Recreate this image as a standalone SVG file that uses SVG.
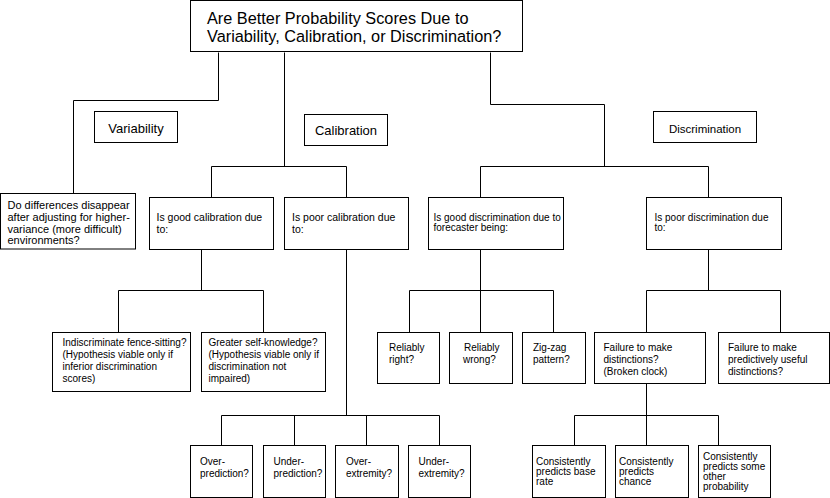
<svg xmlns="http://www.w3.org/2000/svg" width="830" height="498" viewBox="0 0 830 498">
<style>
rect{fill:#fff;stroke:#000;stroke-width:1}
.c path{fill:none;stroke:#000;stroke-width:1}
text{font-family:"Liberation Sans",Arial,sans-serif;fill:#000;font-size:10px}
.t{font-size:16.3px}
.l{font-size:13px;text-anchor:middle}
.s{font-size:11px}
.m{font-size:10.5px}
</style>
<rect width="830" height="498" style="stroke:none"/>
<g class="c" id="connectors">
<path d="M218.5 52.5V100.5H73.5V193.5"/>
<path d="M284.5 52.5V166.5M211.5 197.5V166.5H346.5V197.5"/>
<path d="M490.5 52.5V104.5H604.5V166.5M480.5 197.5V166.5H708.5V197.5"/>
<path d="M201.5 249.5V290.5M118.5 332.5V290.5H263.5V332.5"/>
<path d="M346.5 249.5V415.5M221.5 445.5V415.5H439.5V445.5M294.5 415.5V445.5M366.5 415.5V445.5"/>
<path d="M480.5 249.5V332.5M409.5 332.5V290.5H553.5V332.5"/>
<path d="M708.5 249.5V290.5M646.5 332.5V290.5H780.5V332.5"/>
<path d="M646.5 383.5V445.5M574.5 445.5V415.5H718.5V445.5"/>
</g>
<g id="root">
<rect x="190.5" y="0.5" width="332" height="51"/>
<text class="t" x="207" y="23.5">Are Better Probability Scores Due to</text>
<text class="t" x="207" y="42">Variability, Calibration, or Discrimination?</text>
</g>
<g id="lbl-variability">
<rect x="94.5" y="111.5" width="83" height="31"/>
<text class="l" x="136" y="132.5">Variability</text>
</g>
<g id="lbl-calibration">
<rect x="304.5" y="114.5" width="83" height="31"/>
<text class="l" x="346" y="135">Calibration</text>
</g>
<g id="lbl-discrimination">
<rect x="653.5" y="111.5" width="103" height="31"/>
<text class="l" x="705" y="132.5" style="font-size:11.5px">Discrimination</text>
</g>
<g id="n-variance">
<rect x="0.5" y="193.5" width="135" height="55.5"/>
<text class="s" x="7.5" y="208.5">Do differences disappear</text>
<text class="s" x="7.5" y="220.5">after adjusting for higher-</text>
<text class="s" x="7.5" y="232.5">variance (more difficult)</text>
<text class="s" x="7.5" y="244">environments?</text>
</g>
<g id="n-goodcal">
<rect x="149.5" y="197.5" width="124" height="52"/>
<text class="m" x="156.5" y="221">Is good calibration due</text>
<text class="m" x="156.5" y="233">to:</text>
</g>
<g id="n-poorcal">
<rect x="284.5" y="197.5" width="124" height="52"/>
<text class="m" x="292" y="221">Is poor calibration due</text>
<text class="m" x="292" y="233">to:</text>
</g>
<g id="n-gooddisc">
<rect x="428.5" y="197.5" width="135" height="52"/>
<text x="433.5" y="221">Is good discrimination due to</text>
<text x="433.5" y="231">forecaster being:</text>
</g>
<g id="n-poordisc">
<rect x="646.5" y="197.5" width="135" height="52"/>
<text x="654.5" y="221">Is poor discrimination due</text>
<text x="654.5" y="231">to:</text>
</g>
<g id="n-fence">
<rect x="52.5" y="332.5" width="138" height="59"/>
<text x="62.5" y="346">Indiscriminate fence-sitting?</text>
<text x="62.5" y="358">(Hypothesis viable only if</text>
<text x="62.5" y="370">inferior discrimination</text>
<text x="62.5" y="381.5">scores)</text>
</g>
<g id="n-self">
<rect x="201.5" y="332.5" width="124" height="59"/>
<text x="208.5" y="346">Greater self-knowledge?</text>
<text x="208.5" y="358">(Hypothesis viable only if</text>
<text x="208.5" y="370">discrimination not</text>
<text x="208.5" y="381.5">impaired)</text>
</g>
<g id="n-overpred">
<rect x="190.5" y="445.5" width="62" height="52"/>
<text x="200" y="465">Over-</text>
<text x="200" y="476.5">prediction?</text>
</g>
<g id="n-underpred">
<rect x="263.5" y="445.5" width="62" height="52"/>
<text x="273.5" y="465">Under-</text>
<text x="273.5" y="476.5">prediction?</text>
</g>
<g id="n-overext">
<rect x="335.5" y="445.5" width="63" height="52"/>
<text x="346" y="465">Over-</text>
<text x="346" y="476.5">extremity?</text>
</g>
<g id="n-underext">
<rect x="408.5" y="445.5" width="62" height="52"/>
<text x="418.5" y="465">Under-</text>
<text x="418.5" y="476.5">extremity?</text>
</g>
<g id="n-right">
<rect x="377.5" y="332.5" width="62" height="51"/>
<text x="389" y="350.5">Reliably</text>
<text x="389" y="362.5">right?</text>
</g>
<g id="n-wrong">
<rect x="449.5" y="332.5" width="63" height="51"/>
<text x="464" y="350.5">Reliably</text>
<text x="463" y="362.5">wrong?</text>
</g>
<g id="n-zigzag">
<rect x="522.5" y="332.5" width="63" height="51"/>
<text x="533" y="350.5">Zig-zag</text>
<text x="533" y="362.5">pattern?</text>
</g>
<g id="n-nodist">
<rect x="594.5" y="332.5" width="111" height="51"/>
<text x="603.5" y="350.5">Failure to make</text>
<text x="603.5" y="362.5">distinctions?</text>
<text x="603.5" y="374.5">(Broken clock)</text>
</g>
<g id="n-useless">
<rect x="718.5" y="332.5" width="111" height="51"/>
<text x="728" y="350.5">Failure to make</text>
<text x="728" y="362.5">predictively useful</text>
<text x="728" y="374.5">distinctions?</text>
</g>
<g id="n-base">
<rect x="532.5" y="445.5" width="73" height="52"/>
<text x="536" y="465">Consistently</text>
<text x="536" y="475">predicts base</text>
<text x="536" y="485">rate</text>
</g>
<g id="n-chance">
<rect x="615.5" y="445.5" width="73" height="52"/>
<text x="619" y="465">Consistently</text>
<text x="619" y="475">predicts</text>
<text x="619" y="485">chance</text>
</g>
<g id="n-other">
<rect x="698.5" y="445.5" width="72" height="52"/>
<text x="703" y="460">Consistently</text>
<text x="703" y="469.5">predicts some</text>
<text x="703" y="480">other</text>
<text x="703" y="490">probability</text>
</g>
</svg>
